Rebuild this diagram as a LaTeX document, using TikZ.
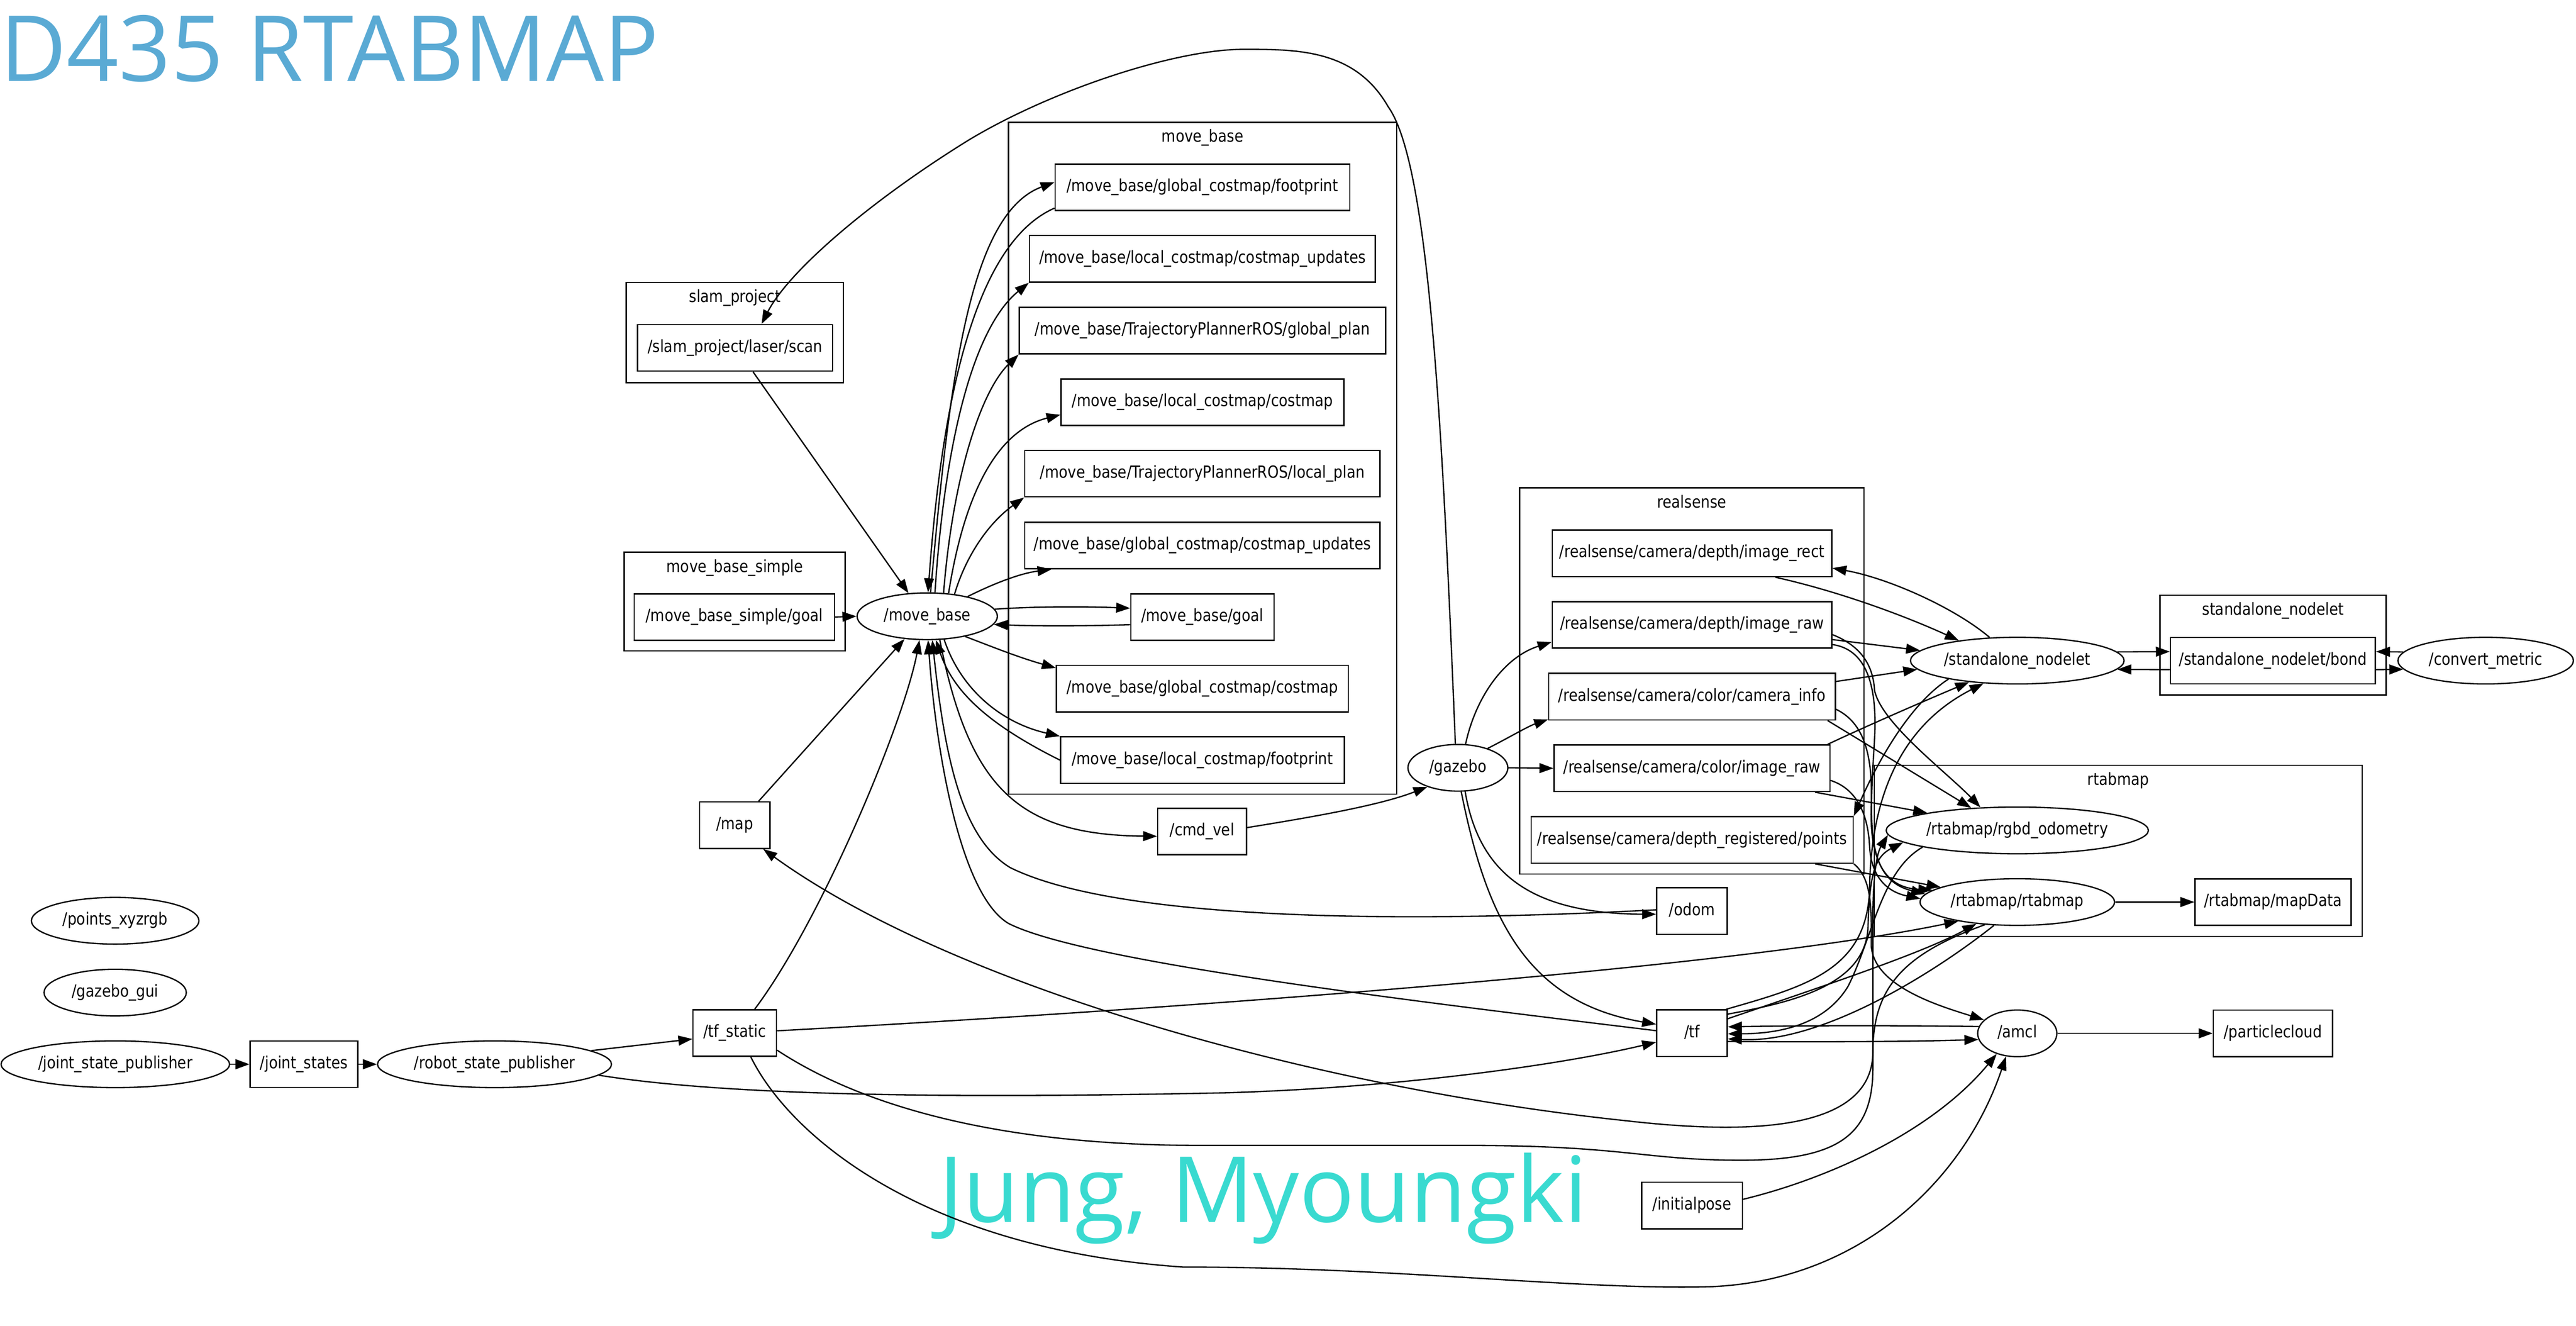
\documentclass[tikz,border=0pt]{standalone}
\usepackage{fontspec}
\setmainfont[FakeStretch=0.86]{DejaVu Sans}
\newfontfamily\titlefont{Open Sans}
\usetikzlibrary{arrows.meta,shapes.geometric}
\definecolor{titleblue}{RGB}{90,170,212}
\definecolor{authorcyan}{RGB}{57,218,208}
\tikzset{
  topic/.style={draw, rectangle, line width=0.8pt, minimum height=28.3pt, inner sep=0pt, text height=7.5pt, text depth=2.3pt, font=\fontsize{10.2}{12}\selectfont},
  rosnode/.style={draw, ellipse, line width=0.8pt, minimum height=28.4pt, inner sep=0pt, text height=7.5pt, text depth=2.3pt, font=\fontsize{10.2}{12}\selectfont},
  cluster/.style={draw, line width=0.8pt},
  clabel/.style={inner sep=0pt, text height=7.5pt, text depth=2.3pt, font=\fontsize{10.2}{12}\selectfont},
  edge/.style={line width=0.8pt, -{Triangle[length=8.5pt,width=6pt]}},
}
\begin{document}
\begin{tikzpicture}[x=1pt,y=1pt]
\useasboundingbox (0,0) rectangle (1568,-806.7);

% Titles
\node[anchor=base west, inner sep=0pt, text=titleblue, font=\titlefont\fontsize{55.5}{60}\selectfont] (title) at (0,-49.3) {D435 RTABMAP};
\node[anchor=base, inner sep=0pt, text=authorcyan, font=\titlefont\fontsize{55.5}{60}\selectfont] (author) at (768.8,-743.7) {Jung, Myoungki};

% Draw the clusters
\draw[cluster] (381.2,-171.9) rectangle (513.4,-232.8);
\node[clabel] (lslam) at (447.3,-181.4) {slam\_project};
\draw[cluster] (380,-336) rectangle (514.5,-396);
\node[clabel] (lsimple) at (447.25,-345.5) {move\_base\_simple};
\draw[cluster] (613.8,-74.4) rectangle (850.2,-483.3);
\node[clabel] (lmb) at (732,-83.9) {move\_base};
\draw[cluster] (924.9,-296.8) rectangle (1134.6,-531.8);
\node[clabel] (lrs) at (1029.75,-306.3) {realsense};
\draw[cluster] (1314.7,-362.2) rectangle (1452.4,-422.9);
\node[clabel] (lsn) at (1383.55,-371.7) {standalone\_nodelet};
\draw[cluster] (1140.8,-465.7) rectangle (1437.9,-569.8);
\node[clabel] (lrt) at (1289.35,-475.2) {rtabmap};

% Nodes and topics
\node[rosnode, minimum width=102pt] (pxyz) at (70.1,-560.3) {/points\_xyzrgb};
\node[rosnode, minimum width=86.6pt] (ggui) at (70.1,-604) {/gazebo\_gui};
\node[rosnode, minimum width=139.1pt] (jsp) at (70.2,-647.6) {/joint\_state\_publisher};
\node[topic, minimum width=65.5pt] (jstates) at (185,-647.6) {/joint\_states};
\node[rosnode, minimum width=142.4pt] (rsp) at (301,-647.6) {/robot\_state\_publisher};
\node[topic, minimum width=50.8pt] (tfs) at (447.2,-628.6) {/tf\_static};
\node[topic, minimum width=42.8pt] (map) at (447.2,-502.1) {/map};
\node[topic, minimum width=118.7pt] (scan) at (447.4,-211.7) {/slam\_project/laser/scan};
\node[topic, minimum width=122pt] (sgoal) at (447,-375.5) {/move\_base\_simple/goal};
\node[rosnode, minimum width=85.4pt] (mb) at (564.4,-375) {/move\_base};

\node[topic, minimum width=179.3pt] (gfp) at (731.9,-114) {/move\_base/global\_costmap/footprint};
\node[topic, minimum width=210.6pt] (lcu) at (731.9,-157.5) {/move\_base/local\_costmap/costmap\_updates};
\node[topic, minimum width=223pt] (gplan) at (731.9,-201.2) {/move\_base/TrajectoryPlannerROS/global\_plan};
\node[topic, minimum width=172.1pt] (lcm) at (731.9,-244.8) {/move\_base/local\_costmap/costmap};
\node[topic, minimum width=216.3pt] (lplan) at (731.9,-288.2) {/move\_base/TrajectoryPlannerROS/local\_plan};
\node[topic, minimum width=216.3pt] (gcu) at (731.9,-331.9) {/move\_base/global\_costmap/costmap\_updates};
\node[topic, minimum width=87.2pt] (mbgoal) at (731.9,-375.5) {/move\_base/goal};
\node[topic, minimum width=177.7pt] (gcm) at (731.9,-419) {/move\_base/global\_costmap/costmap};
\node[topic, minimum width=172.8pt] (lfp) at (731.9,-462.5) {/move\_base/local\_costmap/footprint};
\node[topic, minimum width=54pt] (cmdvel) at (731.7,-506) {/cmd\_vel};

\node[rosnode, minimum width=60.8pt] (gazebo) at (887.4,-467.2) {/gazebo};
\node[topic, minimum width=170.2pt] (rect) at (1029.9,-336.7) {/realsense/camera/depth/image\_rect};
\node[topic, minimum width=170.2pt] (draw) at (1029.9,-380.2) {/realsense/camera/depth/image\_raw};
\node[topic, minimum width=174.4pt] (cinfo) at (1029.9,-423.9) {/realsense/camera/color/camera\_info};
\node[topic, minimum width=167.9pt] (craw) at (1029.9,-467.5) {/realsense/camera/color/image\_raw};
\node[topic, minimum width=196pt] (points) at (1030,-511.1) {/realsense/camera/depth\_registered/points};
\node[topic, minimum width=42.9pt] (odom) at (1029.9,-554.4) {/odom};
\node[topic, minimum width=42.9pt] (tf) at (1029.9,-628.7) {/tf};
\node[topic, minimum width=61.3pt] (initpose) at (1029.9,-733.6) {/initialpose};

\node[rosnode, minimum width=130pt] (sn) at (1227.9,-402) {/standalone\_nodelet};
\node[topic, minimum width=124.7pt] (bond) at (1383.5,-402) {/standalone\_nodelet/bond};
\node[rosnode, minimum width=106.8pt] (cm) at (1513,-402) {/convert\_metric};
\node[rosnode, minimum width=159.6pt] (rgbd) at (1227.9,-505.3) {/rtabmap/rgbd\_odometry};
\node[rosnode, minimum width=118.4pt] (rtab) at (1227.9,-548.9) {/rtabmap/rtabmap};
\node[topic, minimum width=95pt] (mapdata) at (1383.6,-548.9) {/rtabmap/mapData};
\node[rosnode, minimum width=48.2pt] (amcl) at (1227.9,-628.8) {/amcl};
\node[topic, minimum width=72.6pt] (pcloud) at (1383.5,-628.8) {/particlecloud};

% Edges into /move_base
\draw[edge] (sgoal.east) -- (mb.west);
\draw[edge] (scan.-53) -- (mb.129);
\draw[edge] (map.45) -- (mb.-135);
\draw[edge] (tfs.50) .. controls (500,-560) and (550,-440) .. (mb.-108);
\draw[edge] (tf.176) .. controls (850,-608) and (660,-585) .. (614,-562) .. controls (585,-545) and (570,-460) .. (mb.-88);
\draw[edge] (odom.178) .. controls (850,-562) and (680,-560) .. (615,-528) .. controls (585,-510) and (575,-460) .. (mb.-78);
\draw[edge] (lfp.west) .. controls (600,-440) and (580,-420) .. (mb.-70);
\draw[edge] (mbgoal.186) .. controls (660,-381) and (630,-381) .. (mb.-7);
\draw[edge] (gfp.188) .. controls (600,-145) and (575,-220) .. (mb.88);

% Edges out of /move_base
\draw[edge] (mb.82) .. controls (578,-230) and (590,-130) .. (gfp.178);
\draw[edge] (mb.72) .. controls (575,-270) and (592,-200) .. (lcu.south west);
\draw[edge] (mb.55) .. controls (580,-290) and (597,-238) .. (gplan.south west);
\draw[edge] (mb.47) .. controls (587,-300) and (607,-262) .. (lcm.185);
\draw[edge] (mb.39) .. controls (588,-338) and (602,-318) .. (lplan.south west);
\draw[edge] (mb.26) .. controls (603,-356) and (620,-349) .. (gcu.189);
\draw[edge] (mb.6) .. controls (630,-369) and (660,-369) .. (mbgoal.173);
\draw[edge] (mb.-28) .. controls (605,-394) and (620,-400) .. (gcm.172);
\draw[edge] (mb.-54) .. controls (585,-420) and (610,-440) .. (lfp.north west);
\draw[edge] (mb.-62) .. controls (590,-480) and (620,-508) .. (cmdvel.186);
\draw[edge] (cmdvel.5) .. controls (800,-497) and (840,-490) .. (gazebo.-148);

% Edges out of /gazebo
\draw[edge] (gazebo.96) .. controls (878,-260) and (870,-100) .. (845,-65) .. controls (825,-30) and (790,-30) .. (757,-30) .. controls (715,-30) and (640,-55) .. (590,-85) .. controls (530,-122) and (480,-165) .. (scan.42);
\draw[edge] (gazebo.72) .. controls (898,-425) and (915,-400) .. (draw.187);
\draw[edge] (gazebo.33) .. controls (920,-448) and (930,-442) .. (cinfo.189);
\draw[edge] (gazebo.east) -- (craw.west);
\draw[edge] (gazebo.-73) .. controls (900,-530) and (930,-556) .. (odom.185);
\draw[edge] (gazebo.-82) .. controls (905,-560) and (930,-610) .. (tf.166);

% realsense and /standalone_nodelet
\draw[edge] (rect.-16) .. controls (1120,-360) and (1160,-375) .. (sn.161);
\draw[edge] (sn.140) .. controls (1190,-370) and (1150,-352) .. (rect.-6);
\draw[edge] (draw.-6) -- (sn.174);
\draw[edge] (cinfo.6) -- (sn.-175);
\draw[edge] (craw.10) .. controls (1140,-440) and (1175,-425) .. (sn.-156);
\draw[edge] (tf.35) .. controls (1100,-600) and (1137,-590) .. (1138,-540) .. controls (1139,-480) and (1160,-440) .. (sn.-146);
\draw[edge] (sn.-165) .. controls (1160,-430) and (1140,-470) .. (points.north east);
\draw[edge] (sn.5) -- (bond.175);
\draw[edge] (bond.185) -- (sn.-5);
\draw[edge] (bond.-5) -- (cm.-174);
\draw[edge] (cm.174) -- (bond.5);

% realsense and rtabmap
\draw[edge] (draw.-4) .. controls (1130,-392) and (1140,-402) .. (1141,-420) .. controls (1145,-440) and (1185,-470) .. (rgbd.148);
\draw[edge] (cinfo.-10) -- (rgbd.154);
\draw[edge] (craw.-11) -- (rgbd.169);
\draw[edge] (draw.-8) .. controls (1135,-395) and (1143,-415) .. (1141,-450) .. controls (1138,-500) and (1135,-535) .. (rtab.175);
\draw[edge] (cinfo.-5) .. controls (1135,-440) and (1140,-460) .. (1139,-490) .. controls (1138,-520) and (1145,-540) .. (rtab.172);
\draw[edge] (craw.-5) .. controls (1130,-480) and (1137,-495) .. (1138,-515) .. controls (1139,-535) and (1150,-543) .. (rtab.178);
\draw[edge] (points.-11) -- (rtab.169);
\draw[edge] (points.south east) .. controls (1140,-535) and (1139,-555) .. (1139,-575) .. controls (1140,-600) and (1180,-612) .. (amcl.158);
\draw[edge] (rtab.east) -- (mapdata.west);
\draw[edge] (rtab.-135) .. controls (1180,-590) and (1110,-635) .. (tf.-9);
\draw[edge] (rtab.-145) .. controls (1160,-580) and (1140,-600) .. (1140,-640) .. controls (1140,-690) and (1060,-690) .. (990,-682) .. controls (800,-662) and (580,-600) .. (map.-40);
\draw[edge] (rgbd.-170) .. controls (1145,-530) and (1140,-570) .. (1125,-600) .. controls (1110,-625) and (1080,-629) .. (tf.-1);

% /tf and /amcl
\draw[edge] (tf.22) .. controls (1110,-600) and (1170,-580) .. (rtab.-152);
\draw[edge] (tf.28) .. controls (1090,-610) and (1135,-600) .. (1137,-565) .. controls (1138,-535) and (1140,-522) .. (rgbd.-174);
\draw[edge] (tf.-13) .. controls (1100,-634) and (1160,-634) .. (amcl.-171);
\draw[edge] (amcl.170) .. controls (1160,-624) and (1100,-624) .. (tf.10);
\draw[edge] (initpose.7) .. controls (1110,-718) and (1175,-690) .. (amcl.-135);
\draw[edge] (amcl.east) -- (pcloud.west);

% /tf_static
\draw[edge] (tfs.3) .. controls (700,-615) and (1050,-590) .. (rtab.-162);
\draw[edge] (tfs.-22) .. controls (520,-670) and (600,-697) .. (731,-697) -- (892,-697) .. controls (990,-697) and (1000,-706) .. (1060,-706) .. controls (1120,-706) and (1140,-690) .. (1140,-650) -- (1140,-560) .. controls (1140,-535) and (1142,-520) .. (rgbd.-178);
\draw[edge] (tfs.-56) .. controls (480,-690) and (560,-760) .. (720,-771) .. controls (850,-771) and (960,-785) .. (1040,-783) .. controls (1130,-780) and (1195,-720) .. (amcl.-116);

% joint states chain
\draw[edge] (jsp.east) -- (jstates.west);
\draw[edge] (jstates.east) -- (rsp.west);
\draw[edge] (rsp.8) -- (tfs.188);
\draw[edge] (rsp.-6) .. controls (450,-668) and (600,-668) .. (745,-665) .. controls (850,-662) and (950,-648) .. (tf.194);
\end{tikzpicture}
\end{document}
